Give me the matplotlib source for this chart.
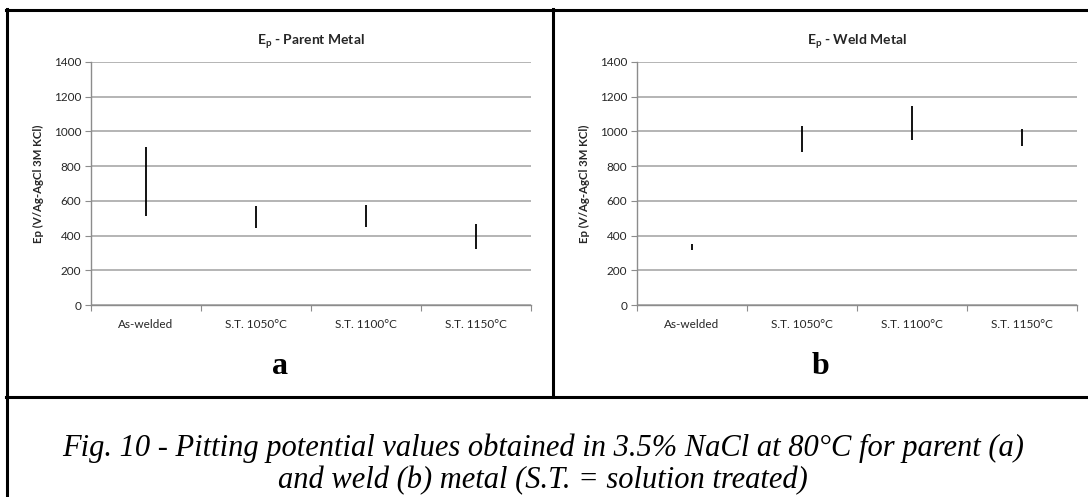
import matplotlib
matplotlib.use('Agg')
import matplotlib.pyplot as plt
from matplotlib.lines import Line2D

plt.rcParams['font.family'] = ['Lato', 'DejaVu Sans']
plt.rcParams['mathtext.fontset'] = 'custom'
plt.rcParams['mathtext.rm'] = 'Lato'
plt.rcParams['mathtext.bf'] = 'Lato:bold'

categories = ['As-welded', 'S.T. 1050°C', 'S.T. 1100°C', 'S.T. 1150°C']
parent_low = [514, 441, 447, 320]
parent_high = [910, 570, 578, 466]
weld_low = [316, 879, 948, 917]
weld_high = [351, 1029, 1148, 1015]
yticks = [0, 200, 400, 600, 800, 1000, 1200, 1400]

W, H = 1088, 497
fig = plt.figure(figsize=(W / 100, H / 100), dpi=100)


def px_box(x0, x1, ytop, ybot):
    return [x0 / W, 1 - ybot / H, (x1 - x0) / W, (ybot - ytop) / H]


def draw_panel(ax, low, high, title):
    xs = [i + 0.5 for i in range(len(categories))]
    ax.vlines(xs, low, high, colors='black', linewidth=1.3)
    ax.set_xlim(0, len(categories))
    ax.set_ylim(0, 1400)
    ax.set_yticks(yticks)
    ax.yaxis.grid(True, color='#a0a0a0', linewidth=1.1)
    ax.set_axisbelow(True)
    for s in ['top', 'right']:
        ax.spines[s].set_visible(False)
    for s in ['left', 'bottom']:
        ax.spines[s].set_color('#8c8c8c')
        ax.spines[s].set_linewidth(1)
    ax.set_xticks(range(len(categories) + 1))
    ax.set_xticklabels([])
    ax.set_xticks(xs, minor=True)
    ax.set_xticklabels(categories, minor=True)
    ax.tick_params(axis='x', which='major', length=4, color='#8c8c8c', direction='out')
    ax.tick_params(axis='x', which='minor', length=0, pad=10, labelsize=8.5, labelcolor='#262626')
    ax.tick_params(axis='y', length=4, color='#8c8c8c', pad=3, labelsize=8.5, labelcolor='#262626')
    ax.set_ylabel('Ep (V/Ag-AgCl 3M KCl)', fontsize=8.2, fontweight='bold', color='#262626')
    ax.yaxis.set_label_coords(-0.107, 0.5)
    ax.set_title(title, fontsize=10, fontweight='bold', color='#262626', pad=12)


ax1 = fig.add_axes(px_box(91, 531, 62, 305))
draw_panel(ax1, parent_low, parent_high, r'$\mathbf{E_p}$ - Parent Metal')
ax2 = fig.add_axes(px_box(637, 1077, 62, 305))
draw_panel(ax2, weld_low, weld_high, r'$\mathbf{E_p}$ - Weld Metal')

for xc, letter in [(280, 'a'), (821, 'b')]:
    fig.text(xc / W, 1 - 367 / H, letter, ha='center', va='center',
             fontsize=23, fontweight='bold', family='Liberation Serif')

# frame lines
lw = 2.2
def hline(y, x0, x1):
    fig.add_artist(Line2D([x0 / W, x1 / W], [1 - y / H, 1 - y / H], color='black', lw=lw,
                          transform=fig.transFigure))
def vline(x, y0, y1):
    fig.add_artist(Line2D([x / W, x / W], [1 - y0 / H, 1 - y1 / H], color='black', lw=lw,
                          transform=fig.transFigure))

hline(10, 6, W)
hline(397, 6, W)
vline(7, 9, H)
vline(553, 9, 397)

fig.text(543 / W, 1 - 448 / H, 'Fig. 10 - Pitting potential values obtained in 3.5% NaCl at 80°C for parent (a)',
         ha='center', va='center', fontsize=22, style='italic', family='Liberation Serif')
fig.text(543 / W, 1 - 481 / H, 'and weld (b) metal (S.T. = solution treated)',
         ha='center', va='center', fontsize=22, style='italic', family='Liberation Serif')

plt.savefig('out.png', dpi=100)
